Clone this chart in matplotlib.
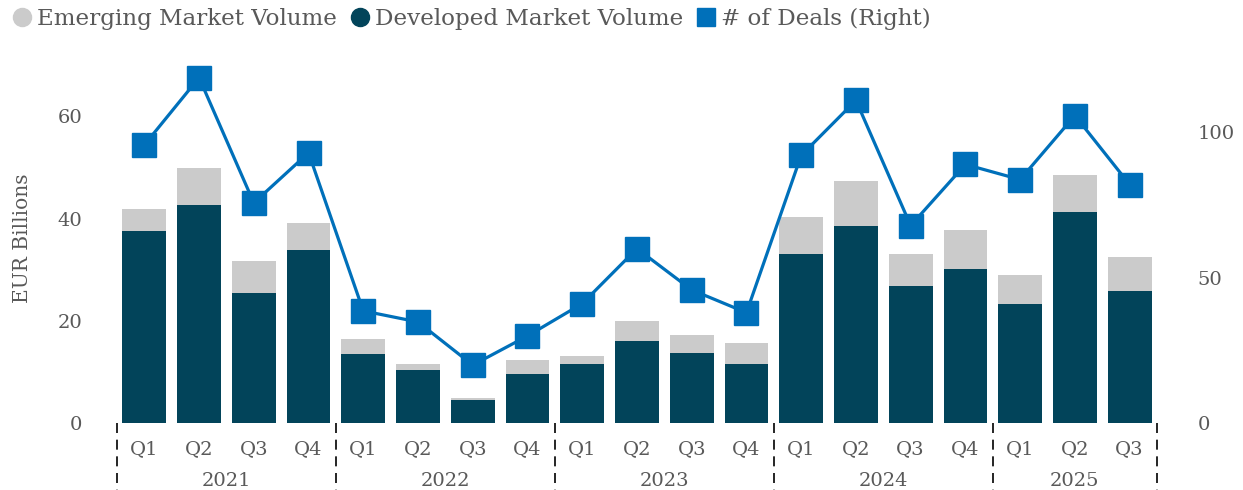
import matplotlib
matplotlib.use("Agg")
import matplotlib.pyplot as plt
from matplotlib.lines import Line2D
import numpy as np

plt.rcParams['font.family'] = ['DejaVu Serif']

# data
quarters = ["Q1", "Q2", "Q3", "Q4"] * 4 + ["Q1", "Q2", "Q3"]
years = ["2021", "2022", "2023", "2024", "2025"]
year_sizes = [4, 4, 4, 4, 3]
developed = [37.6, 42.7, 25.5, 33.9, 13.5, 10.4, 4.6, 9.6, 11.5, 16.1,
             13.7, 11.6, 33.1, 38.6, 26.8, 30.2, 23.3, 41.3, 25.9]
total = [41.9, 49.9, 31.8, 39.2, 16.5, 11.6, 4.9, 12.4, 13.2, 20.0,
         17.3, 15.7, 40.3, 47.4, 33.1, 37.8, 29.0, 48.5, 32.5]
emerging = [round(t - d, 1) for t, d in zip(total, developed)]
deals = [95.6, 118.7, 75.7, 92.9, 38.6, 34.8, 20.0, 30.0, 41.1, 60.0,
         45.8, 38.0, 92.0, 110.9, 67.9, 88.9, 83.7, 105.7, 82.0]

DARK = "#02445A"
GREY = "#CBCBCB"
BLUE = "#0070BA"
TXT = "#595959"

fig = plt.figure(figsize=(12.43, 4.90), dpi=100)
ax = fig.add_axes([0.0941, 0.1361, 0.8367, 0.7310])
ax2 = ax.twinx()

x = np.arange(len(quarters))
ax.bar(x, developed, width=0.8, color=DARK, zorder=2)
ax.bar(x, emerging, width=0.8, bottom=developed, color=GREY, zorder=2)
ax2.plot(x, deals, color=BLUE, lw=2.3, marker="s", markersize=17, zorder=3)

ax.set_xlim(-0.5, len(quarters) - 0.5)
ax.set_ylim(0, 70)
ax2.set_ylim(0, 123)
ax.set_yticks([0, 20, 40, 60])
ax2.set_yticks([0, 50, 100])

for a in (ax, ax2):
    for s in a.spines.values():
        s.set_visible(False)
    a.tick_params(length=0, labelsize=14, colors=TXT)
ax.tick_params(axis="y", pad=25)
ax2.tick_params(axis="y", pad=29)
ax.set_ylabel("EUR Billions", fontsize=14.5, color=TXT)
ax.yaxis.set_label_coords(-0.082, 0.517)

ax.set_xticks(x)
ax.set_xticklabels(quarters)
ax.tick_params(axis="x", pad=12)

# year labels and dashed separators below the axis
trans = ax.get_xaxis_transform()
start = -0.5
for yr, n in zip(years, year_sizes):
    ax.text(start + n / 2, -0.16, yr, transform=trans, ha="center", va="center",
            fontsize=14, color=TXT)
    start += n
bounds = np.cumsum([0] + year_sizes) - 0.5
for b in bounds:
    ax.plot([b, b], [0, -0.19], transform=trans, color="black", lw=1.2,
            linestyle=(0, (6, 4)), clip_on=False)

handles = [
    Line2D([], [], marker="o", ls="", color=GREY, markersize=13),
    Line2D([], [], marker="o", ls="", color=DARK, markersize=13),
    Line2D([], [], marker="s", ls="", color=BLUE, markersize=13),
]
labels = ["Emerging Market Volume", "Developed Market Volume", "# of Deals (Right)"]
fig.legend(handles, labels, loc="upper left", bbox_to_anchor=(-0.009, 1.027), ncol=3,
           frameon=False, fontsize=16.6, labelcolor=TXT, handletextpad=0.1,
           columnspacing=0.45, handlelength=1.1)

fig.savefig("out.png", dpi=100)
